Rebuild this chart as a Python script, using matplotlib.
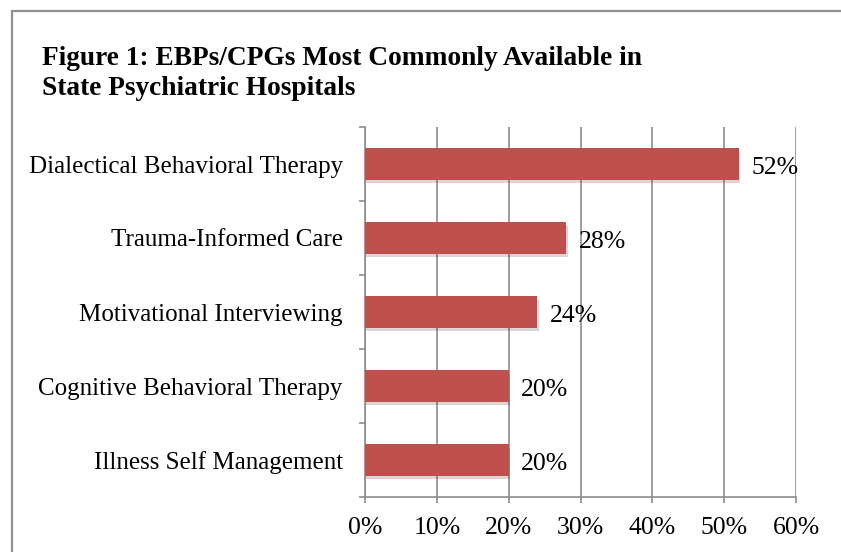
import matplotlib
matplotlib.use("Agg")
import matplotlib.pyplot as plt
import matplotlib.patches as mpatches
import matplotlib.patheffects as pe
from matplotlib.ticker import FixedLocator, PercentFormatter

# ── data ─────────────────────────────────────────────
categories = [
    "Dialectical Behavioral Therapy",
    "Trauma-Informed Care",
    "Motivational Interviewing",
    "Cognitive Behavioral Therapy",
    "Illness Self Management",
]
values = [52, 28, 24, 20, 20]
x_ticks = [0, 10, 20, 30, 40, 50, 60]

BAR_COLOR = "#C0504D"
GRID_COLOR = "#8C8C8C"
FONT = "Liberation Serif"

plt.rcParams["font.family"] = FONT

fig = plt.figure(figsize=(8.41, 5.52), dpi=100)
W, H = 841, 552

# outer chart border (right / bottom run off the picture)
fig.patches.append(mpatches.Rectangle(
    (12 / W, -0.1), 1.1, 1 - 11 / H + 0.1,
    transform=fig.transFigure, fill=False,
    edgecolor="#8F8F8F", linewidth=1.6))

fig.text(42 / W, 1 - 46 / H,
         "Figure 1: EBPs/CPGs Most Commonly Available in\nState Psychiatric Hospitals",
         ha="left", va="top", fontsize=19.7, fontweight="bold",
         linespacing=1.28, color="black")

ax = fig.add_axes([365 / W, 1 - 497 / H, (796 - 365) / W, (497 - 127) / H])

pos = list(range(len(categories)))
bars = ax.barh(pos, values, height=0.43, color=BAR_COLOR, zorder=3)
for b in bars:
    b.set_path_effects([pe.SimplePatchShadow(offset=(1, -2.5), alpha=0.18), pe.Normal()])

for p, v in zip(pos, values):
    ax.annotate(f"{v}%", (v, p), xytext=(9, -3), textcoords="offset points",
                ha="left", va="center", fontsize=18.5, zorder=4)

ax.set_ylim(len(categories) - 0.5, -0.5)
ax.set_xlim(0, 60)
ax.set_xticks(x_ticks)
ax.xaxis.set_major_formatter(PercentFormatter(decimals=0))
ax.set_yticks(pos)
ax.set_yticklabels(categories)
ax.yaxis.set_minor_locator(FixedLocator([p - 0.5 for p in pos] + [len(pos) - 0.5]))

ax.tick_params(axis="y", which="major", length=0, pad=16, labelsize=18)
ax.tick_params(axis="y", which="minor", length=4.5, width=1.2, color=GRID_COLOR)
ax.tick_params(axis="x", length=4.5, width=1.2, color=GRID_COLOR, pad=10, labelsize=18.5)

ax.grid(axis="x", color=GRID_COLOR, linewidth=1.2, zorder=0)
for s in ["top", "right"]:
    ax.spines[s].set_visible(False)
for s in ["left", "bottom"]:
    ax.spines[s].set_color(GRID_COLOR)
    ax.spines[s].set_linewidth(1.2)

fig.savefig("out.png", dpi=100)
